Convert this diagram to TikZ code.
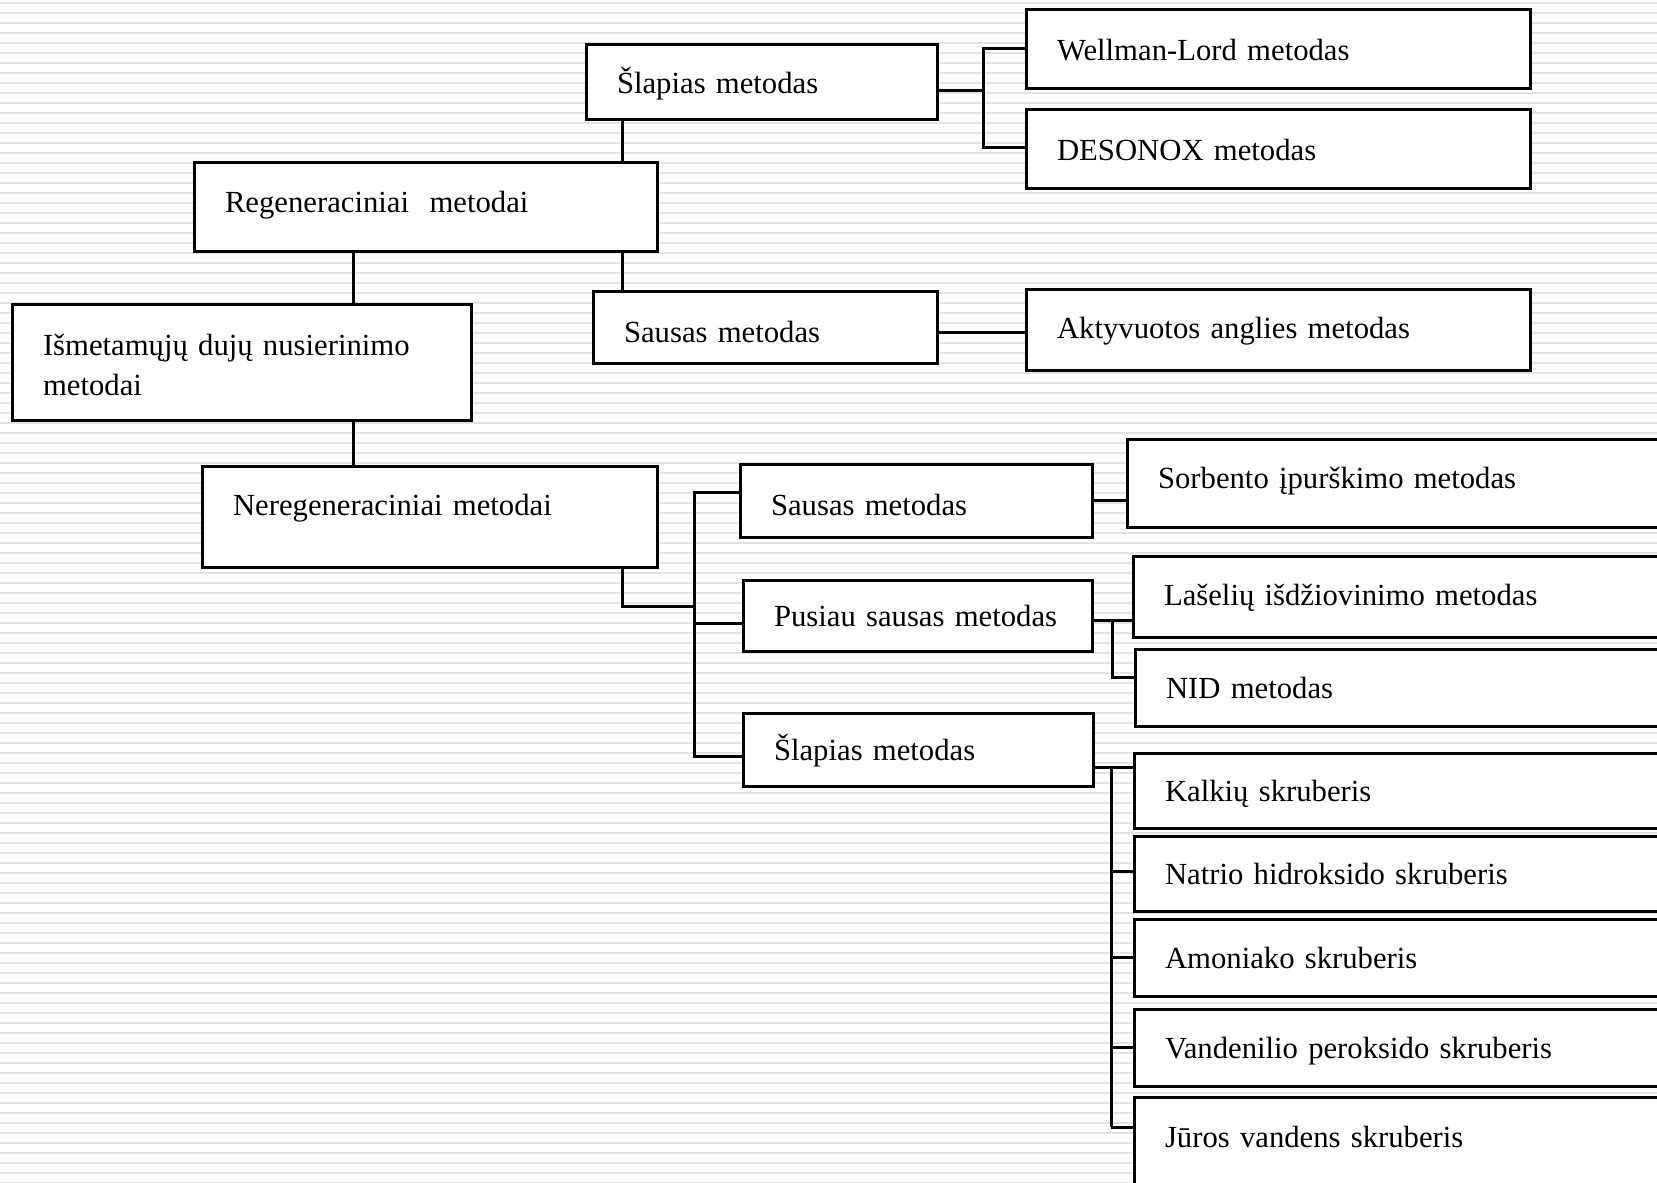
\documentclass[tikz,border=0pt]{standalone}
\usepackage{fontspec}
\setmainfont{Liberation Serif}

\begin{document}
\begin{tikzpicture}[x=0.5pt,y=-0.5pt,
  box/.style={draw, fill=white, line width=1.5pt, rectangle, anchor=north west,
    outer sep=0pt, inner xsep=15.5pt, inner ysep=0pt, align=left,
    text height=14.5pt, text depth=3.5pt,
    font=\fontsize{15.35pt}{20pt}\selectfont},
  link/.style={line width=1.5pt},
  stripe/.style={gray!22, line width=1.1pt}]

% Page and stripes
\useasboundingbox (0,0) rectangle (1657,1182);
\clip (0,0) rectangle (1657,1182);
\fill[white] (0,0) rectangle (1657,1182);
\foreach \y in {3,13,...,1183} {
    \draw[stripe] (0,\y) -- (1657,\y);
}

% Main branches
\node[box, text width=198.5pt, minimum height=58pt, text height=3.5pt, text depth=10.5pt] (ismet) at (12,304) {Išmetamųjų dujų nusierinimo\\metodai};
\node[box, text width=200.5pt, minimum height=44pt, text height=9.5pt] (regen) at (194,163) {Regeneraciniai\ \ metodai};
\node[box, text width=196.5pt, minimum height=50.5pt, text height=2pt] (neregen) at (202,466) {Neregeneraciniai metodai};

% Regenerative methods
\node[box, text width=144.5pt, minimum height=37.5pt] (slap1) at (586,45) {Šlapias metodas};
\node[box, text width=141pt, minimum height=36pt, text height=18.5pt] (saus1) at (593,291) {Sausas metodas};
\node[box, text width=221pt, minimum height=39.5pt] (wellman) at (1026,10) {Wellman-Lord metodas};
\node[box, text width=221pt, minimum height=39.5pt] (desonox) at (1026,110) {DESONOX metodas};
\node[box, text width=221pt, minimum height=40.5pt, text height=12pt] (aktyv) at (1026,289) {Aktyvuotos anglies metodas};

% Non-regenerative methods
\node[box, text width=145pt, minimum height=36.5pt, text height=18pt] (saus2) at (740,464) {Sausas metodas};
\node[box, text width=143.5pt, minimum height=35.5pt] (pusiau) at (743,580) {Pusiau sausas metodas};
\node[box, text width=144pt, minimum height=36.5pt] (slap2) at (743,713) {Šlapias metodas};

\node[box, text width=269pt, minimum height=44pt, text height=8.5pt] (sorb) at (1127,439) {Sorbento įpurškimo metodas};
\node[box, text width=269pt, minimum height=40.5pt, text height=12pt] (laseliu) at (1133,556) {Lašelių išdžiovinimo metodas};
\node[box, text width=269pt, minimum height=38.5pt] (nid) at (1135,649) {NID metodas};
\node[box, text width=269pt, minimum height=37.5pt] (kalk) at (1134,753) {Kalkių skruberis};
\node[box, text width=269pt, minimum height=37.5pt] (natrio) at (1134,836) {Natrio hidroksido skruberis};
\node[box, text width=269pt, minimum height=38.5pt] (amon) at (1134,919) {Amoniako skruberis};
\node[box, text width=269pt, minimum height=38.5pt] (vand) at (1134,1009) {Vandenilio peroksido skruberis};
\node[box, text width=269pt, minimum height=85pt, text height=3.5pt, text depth=38.5pt] (juros) at (1134,1097) {Jūros vandens skruberis};

% Spine points
\coordinate (mx) at (353,0);
\coordinate (rx) at (622,0);
\coordinate (t0) at (983,49);
\coordinate (t1) at (983,148);
\coordinate (t2) at (983,91);
\coordinate (j0) at (694,492);
\coordinate (j1) at (694,606);
\coordinate (j2) at (694,623);
\coordinate (j3) at (694,756);
\coordinate (p0) at (1112,620);
\coordinate (p1) at (1112,677);
\coordinate (k0) at (1111,767);
\coordinate (k1) at (1111,1127);

% Links of the main tree
\draw[link] (slap1.south -| rx) -- (regen.north -| rx);
\draw[link] (regen.south -| rx) -- (saus1.north -| rx);
\draw[link] (regen.south -| mx) -- (ismet.north -| mx);
\draw[link] (ismet.south -| mx) -- (neregen.north -| mx);
\draw[link] (neregen.south -| rx) |- (j1);

% Links on the right
\draw[link] (slap1.east |- t2) -- (t2);
\draw[link] (wellman.west |- t0) -- (t0) -- (t1) -- (desonox.west |- t1);
\draw[link] (saus1.east |- 0,332) -- (aktyv.west |- 0,332);

\draw[link] (saus2.west |- j0) -- (j0) -- (j3) -- (slap2.west |- j3);
\draw[link] (j2) -- (pusiau.west |- j2);

\draw[link] (saus2.east) -- (sorb.west |- saus2.east);
\draw[link] (pusiau.east |- p0) -- (laseliu.west |- p0);
\draw[link] (p0) -- (p1) -- (nid.west |- p1);

\draw[link] (slap2.east |- k0) -- (kalk.west |- k0);
\draw[link] (k0) -- (k1);
\foreach \n/\y in {natrio/871, amon/957, vand/1047, juros/1127} {
    \draw[link] (1111,\y) -- (\n.west |- 0,\y);
}
\end{tikzpicture}
\end{document}
